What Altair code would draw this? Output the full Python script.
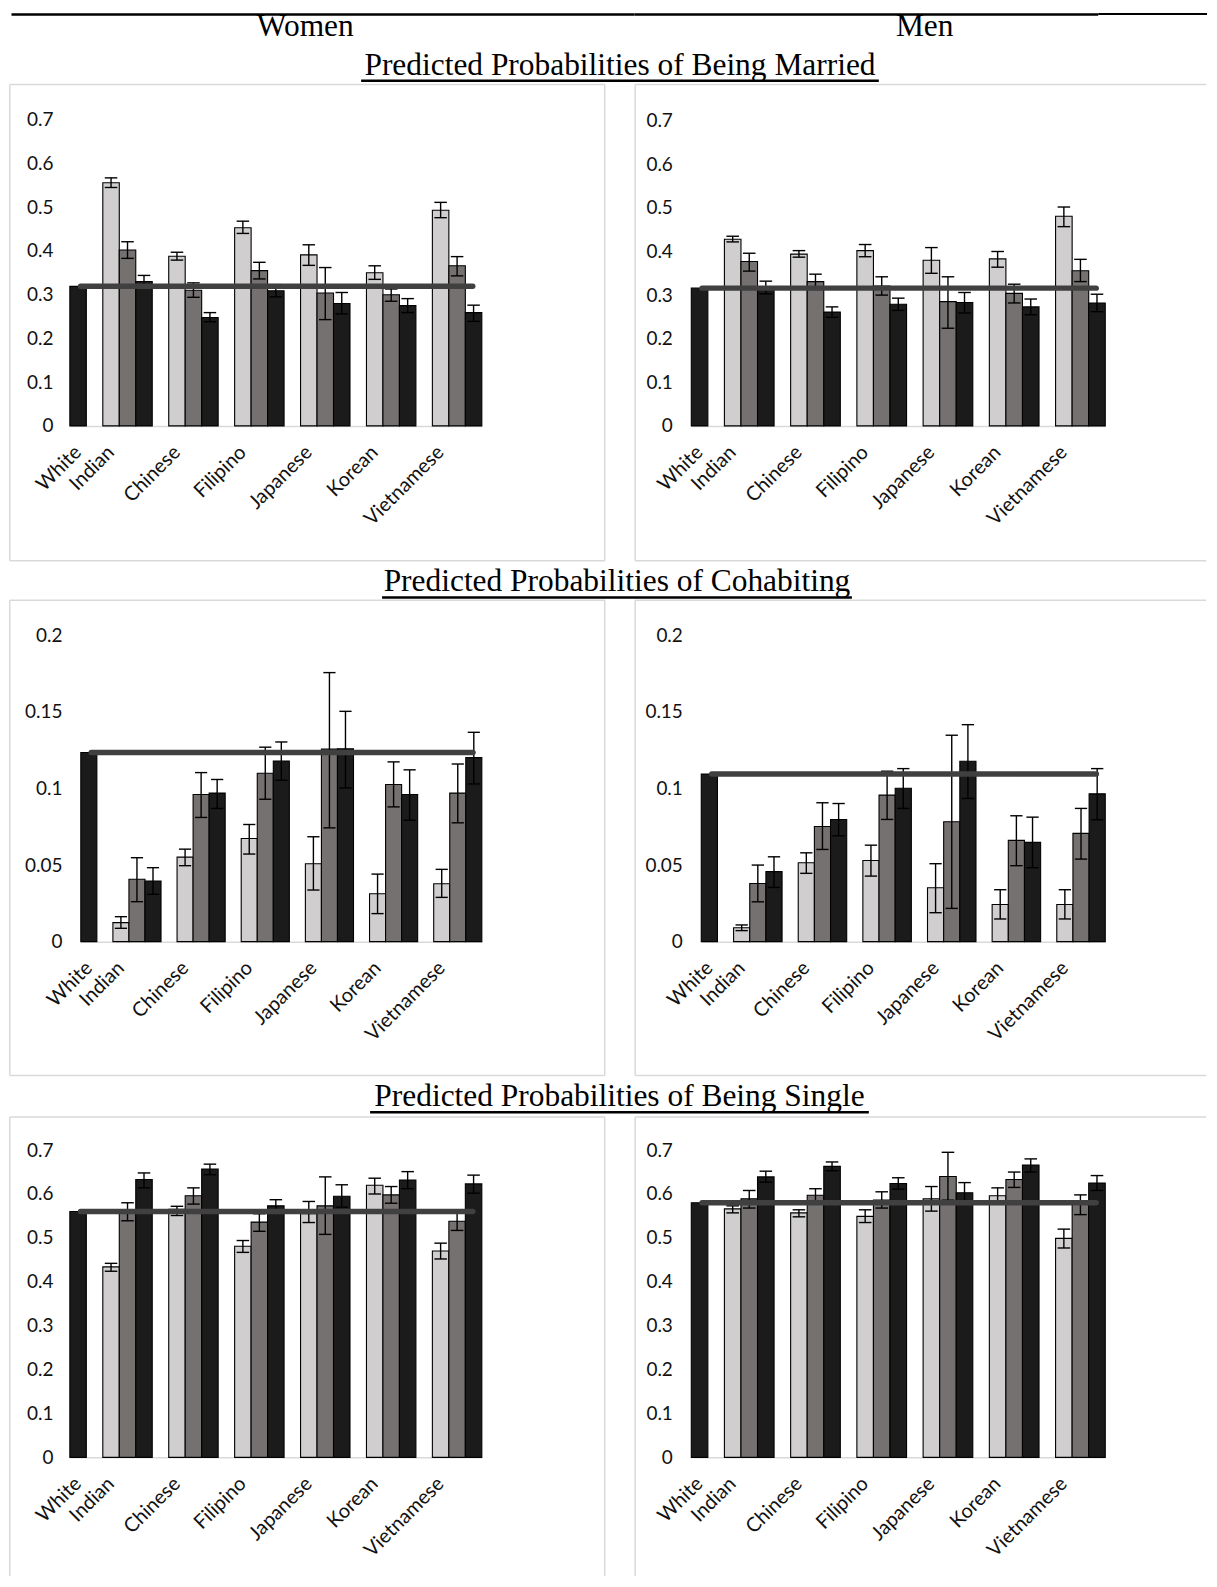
import json
import altair as alt
import pandas as pd

# ---------------- data ----------------
categories = ["White", "Indian", "Chinese", "Filipino", "Japanese", "Korean", "Vietnamese"]
series_names = ["Series 1", "Series 2", "Series 3"]
series_colors = ["#d0cece", "#767171", "#1b1b1b"]
column_labels = ["Women", "Men"]
panel_titles = [
    "Predicted Probabilities of Being Married",
    "Predicted Probabilities of Cohabiting",
    "Predicted Probabilities of Being Single",
]
married_ticks = [0, 0.1, 0.2, 0.3, 0.4, 0.5, 0.6, 0.7]
cohab_ticks = [0, 0.05, 0.1, 0.15, 0.2]
single_ticks = [0, 0.1, 0.2, 0.3, 0.4, 0.5, 0.6, 0.7]

# Women - married
women_married_white = 0.319
women_married_s1 = [0.556, 0.388, 0.453, 0.391, 0.350, 0.493]
women_married_s1_low = [0.545, 0.379, 0.440, 0.367, 0.335, 0.476]
women_married_s1_high = [0.567, 0.397, 0.468, 0.414, 0.366, 0.511]
women_married_s2 = [0.402, 0.310, 0.355, 0.304, 0.300, 0.366]
women_married_s2_low = [0.383, 0.294, 0.336, 0.243, 0.285, 0.343]
women_married_s2_high = [0.421, 0.327, 0.374, 0.362, 0.313, 0.387]
women_married_s3 = [0.330, 0.248, 0.309, 0.280, 0.275, 0.259]
women_married_s3_low = [0.316, 0.238, 0.295, 0.256, 0.259, 0.239]
women_married_s3_high = [0.344, 0.259, 0.323, 0.305, 0.291, 0.276]

# Men - married
men_married_white = 0.316
men_married_s1 = [0.428, 0.394, 0.402, 0.380, 0.383, 0.481]
men_married_s1_low = [0.422, 0.387, 0.388, 0.350, 0.364, 0.457]
men_married_s1_high = [0.435, 0.402, 0.416, 0.409, 0.400, 0.502]
men_married_s2 = [0.377, 0.331, 0.321, 0.285, 0.304, 0.356]
men_married_s2_low = [0.355, 0.313, 0.300, 0.224, 0.282, 0.331]
men_married_s2_high = [0.396, 0.348, 0.342, 0.342, 0.325, 0.382]
men_married_s3 = [0.315, 0.261, 0.279, 0.283, 0.273, 0.282]
men_married_s3_low = [0.303, 0.249, 0.265, 0.259, 0.255, 0.262]
men_married_s3_high = [0.332, 0.273, 0.293, 0.306, 0.291, 0.302]

# Women - cohabiting
women_cohab_white = 0.1235
women_cohab_s1 = [0.0124, 0.0552, 0.0674, 0.0509, 0.0313, 0.0378]
women_cohab_s1_low = [0.0087, 0.0496, 0.0572, 0.0337, 0.0183, 0.0289]
women_cohab_s1_high = [0.0163, 0.0604, 0.0765, 0.0685, 0.0441, 0.0472]
women_cohab_s2 = [0.0407, 0.0961, 0.1100, 0.1257, 0.1026, 0.0970]
women_cohab_s2_low = [0.0261, 0.0811, 0.0930, 0.0743, 0.0880, 0.0776]
women_cohab_s2_high = [0.0548, 0.1104, 0.1270, 0.1757, 0.1174, 0.1160]
women_cohab_s3 = [0.0396, 0.0970, 0.1180, 0.1259, 0.0961, 0.1202]
women_cohab_s3_low = [0.0309, 0.0870, 0.1054, 0.1004, 0.0793, 0.1030]
women_cohab_s3_high = [0.0483, 0.1059, 0.1304, 0.1504, 0.1122, 0.1367]

# Men - cohabiting
men_cohab_white = 0.1095
men_cohab_s1 = [0.0091, 0.0515, 0.0530, 0.0352, 0.0243, 0.0243]
men_cohab_s1_low = [0.0072, 0.0446, 0.0428, 0.0189, 0.0148, 0.0148]
men_cohab_s1_high = [0.0109, 0.0580, 0.0630, 0.0509, 0.0339, 0.0339]
men_cohab_s2 = [0.0380, 0.0752, 0.0957, 0.0783, 0.0661, 0.0707]
men_cohab_s2_low = [0.0260, 0.0602, 0.0798, 0.0217, 0.0496, 0.0539]
men_cohab_s2_high = [0.0500, 0.0907, 0.1113, 0.1348, 0.0822, 0.0870]
men_cohab_s3 = [0.0457, 0.0798, 0.1002, 0.1178, 0.0648, 0.0965]
men_cohab_s3_low = [0.0354, 0.0691, 0.0870, 0.0935, 0.0483, 0.0796]
men_cohab_s3_high = [0.0554, 0.0902, 0.1130, 0.1417, 0.0813, 0.1130]

# Women - single
women_single_white = 0.560
women_single_s1 = [0.434, 0.565, 0.481, 0.555, 0.620, 0.470]
women_single_s1_low = [0.424, 0.551, 0.467, 0.535, 0.600, 0.452]
women_single_s1_high = [0.442, 0.572, 0.494, 0.583, 0.636, 0.488]
women_single_s2 = [0.558, 0.596, 0.536, 0.573, 0.598, 0.538]
women_single_s2_low = [0.539, 0.577, 0.515, 0.508, 0.579, 0.517]
women_single_s2_high = [0.580, 0.614, 0.555, 0.639, 0.617, 0.558]
women_single_s3 = [0.633, 0.657, 0.573, 0.595, 0.632, 0.623]
women_single_s3_low = [0.614, 0.644, 0.560, 0.570, 0.612, 0.602]
women_single_s3_high = [0.648, 0.668, 0.587, 0.621, 0.651, 0.643]

# Men - single
men_single_white = 0.580
men_single_s1 = [0.566, 0.557, 0.549, 0.589, 0.596, 0.499]
men_single_s1_low = [0.557, 0.548, 0.535, 0.561, 0.579, 0.477]
men_single_s1_high = [0.573, 0.564, 0.564, 0.617, 0.614, 0.520]
men_single_s2 = [0.589, 0.597, 0.586, 0.640, 0.633, 0.576]
men_single_s2_low = [0.568, 0.580, 0.568, 0.586, 0.615, 0.553]
men_single_s2_high = [0.608, 0.612, 0.605, 0.695, 0.650, 0.598]
men_single_s3 = [0.639, 0.663, 0.624, 0.603, 0.666, 0.625]
men_single_s3_low = [0.627, 0.653, 0.611, 0.580, 0.650, 0.608]
men_single_s3_high = [0.652, 0.673, 0.637, 0.626, 0.680, 0.642]

# ---------------- layout helpers ----------------
SLOTS = 25
LABEL_FONT = "Lato"
SERIF = "Liberation Serif"
TXT = "#111111"
BORDER = "#d9d9d9"
LW, RW, GAP = 598, 574, 29
NOSTROKE = alt.ViewBackground(stroke="transparent")


def slot_of(ci, s):
    return 0 if ci == 0 else 4 * ci - 2 + s


def panel(white, ests, lows, highs, ticks, W, H, xr, yr, ylab_right, sides):
    bar_rows = [dict(cat="White", series=series_names[2], x0=slot_of(0, 0),
                     x1=slot_of(0, 0) + 1, v=white, zero=0)]
    err_rows = []
    for ci, cat in enumerate(categories[1:], start=1):
        for s in range(3):
            st = slot_of(ci, s)
            bar_rows.append(dict(cat=cat, series=series_names[s], x0=st, x1=st + 1,
                                 v=ests[s][ci - 1], zero=0))
            err_rows.append(dict(cat=cat, series=series_names[s], xc=st + 0.5,
                                 cl=st + 0.12, cr=st + 0.88,
                                 lo=lows[s][ci - 1], hi=highs[s][ci - 1]))
    bar_df = pd.DataFrame(bar_rows)
    err_df = pd.DataFrame(err_rows)
    ref_df = pd.DataFrame([dict(lx0=0.65, lx1=SLOTS - 0.55, v=white)])

    xs = alt.Scale(domain=[0, SLOTS], range=list(xr), nice=False, zero=False)
    ys = alt.Scale(domain=[0, ticks[-1]], range=list(yr), nice=False)

    label_vals = [slot_of(ci, 0) + 0.05 for ci in range(len(categories))]
    label_expr = json.dumps(categories) + "[floor(datum.value / 4 + 0.5)]"

    xaxis = alt.Axis(values=label_vals, labelExpr=label_expr, labelAngle=-45,
                     labelAlign="right", labelBaseline="top", labelPadding=16,
                     labelFont=LABEL_FONT, labelFontSize=20, labelColor=TXT,
                     ticks=False, tickSize=0, grid=False, title=None,
                     domain=True, domainColor=BORDER, domainWidth=1.5,
                     offset=-(H - yr[0]), labelOverlap=False, labelFlush=False,
                     labelBound=False)
    yaxis = alt.Axis(values=ticks, format="~g", domain=False, ticks=False,
                     tickSize=0, grid=False, title=None, offset=-ylab_right,
                     labelPadding=0, labelFont=LABEL_FONT, labelFontSize=19,
                     labelColor=TXT, labelFlush=False, labelOverlap=False,
                     labelBaseline="middle")

    bars = alt.Chart(bar_df).mark_rect(stroke="black", strokeWidth=1.1).encode(
        x=alt.X("x0:Q", scale=xs, axis=xaxis),
        x2="x1",
        y=alt.Y("v:Q", scale=ys, axis=yaxis),
        y2="zero",
        color=alt.Color("series:N", scale=alt.Scale(domain=series_names, range=series_colors),
                        legend=None),
    )
    err = alt.Chart(err_df).mark_rule(color="black", strokeWidth=1.4).encode(
        x=alt.X("xc:Q", scale=xs, axis=xaxis),
        y=alt.Y("lo:Q", scale=ys, axis=yaxis),
        y2="hi",
    )
    cap_hi = alt.Chart(err_df).mark_rule(color="black", strokeWidth=1.4).encode(
        x=alt.X("cl:Q", scale=xs, axis=xaxis),
        x2="cr",
        y=alt.Y("hi:Q", scale=ys, axis=yaxis),
    )
    cap_lo = alt.Chart(err_df).mark_rule(color="black", strokeWidth=1.4).encode(
        x=alt.X("cl:Q", scale=xs, axis=xaxis),
        x2="cr",
        y=alt.Y("lo:Q", scale=ys, axis=yaxis),
    )
    ref = alt.Chart(ref_df).mark_rule(color="#404040", strokeWidth=5.5, strokeCap="round").encode(
        x=alt.X("lx0:Q", scale=xs, axis=xaxis),
        x2="lx1",
        y=alt.Y("v:Q", scale=ys, axis=yaxis),
    )

    # chart-area border (Excel-style light frame); sides cut off by the page are left out
    frame = []
    bmark = dict(color=BORDER, strokeWidth=1.5)
    edge = 0.75
    if "top" in sides:
        frame.append(alt.Chart(ref_df).mark_rule(**bmark).encode(
            x=alt.value(edge), x2=alt.value(W - edge), y=alt.value(edge)))
    if "bottom" in sides:
        frame.append(alt.Chart(ref_df).mark_rule(**bmark).encode(
            x=alt.value(edge), x2=alt.value(W - edge), y=alt.value(H - edge)))
    if "left" in sides:
        frame.append(alt.Chart(ref_df).mark_rule(**bmark).encode(
            x=alt.value(edge), y=alt.value(edge), y2=alt.value(H - edge)))
    if "right" in sides:
        frame.append(alt.Chart(ref_df).mark_rule(**bmark).encode(
            x=alt.value(W - edge), y=alt.value(edge), y2=alt.value(H - edge)))

    return alt.layer(bars, err, cap_hi, cap_lo, ref, *frame).properties(
        width=W, height=H, view=NOSTROKE)


def text_layer(text, cx, base):
    df = pd.DataFrame({"t": [text]})
    return alt.Chart(df).mark_text(font=SERIF, fontSize=31.5, color="black",
                                   align="center", baseline="alphabetic").encode(
        x=alt.value(cx), y=alt.value(base), text="t:N")


def rule_layer(text, x0, x1, y, sw):
    df = pd.DataFrame({"t": [text]})
    return alt.Chart(df).mark_rule(color="black", strokeWidth=sw).encode(
        x=alt.value(x0), x2=alt.value(x1), y=alt.value(y))


def blank(W, H):
    df = pd.DataFrame({"t": [""]})
    return alt.Chart(df).mark_text(opacity=0).encode(
        x=alt.value(1), y=alt.value(1), text="t:N").properties(
        width=W, height=H, view=NOSTROKE)


# header cells (titles spanning both columns are drawn from the left cell)
header_left = alt.layer(
    rule_layer("top", 2.5, LW + GAP, 2.5, 2.5),
    text_layer(column_labels[0], 297, 24),
    text_layer(panel_titles[0], 612.5, 63),
    rule_layer(panel_titles[0], 353, 872, 69, 2.5),
).properties(width=LW, height=72, view=NOSTROKE)
header_right = alt.layer(
    rule_layer("top", 0, 1092 - LW - GAP, 2.5, 2.5),
    rule_layer("box", 1092 - LW - GAP, RW, 2, 2),
    text_layer(column_labels[1], 918 - LW - GAP, 24),
).properties(width=RW, height=72, view=NOSTROKE)

title2_left = alt.layer(
    text_layer(panel_titles[1], 609.5, 29),
    rule_layer(panel_titles[1], 374, 845, 36, 2.5),
).properties(width=LW, height=38, view=NOSTROKE)
title3_left = alt.layer(
    text_layer(panel_titles[2], 612, 30),
    rule_layer(panel_titles[2], 362, 862, 36, 2.5),
).properties(width=LW, height=40, view=NOSTROKE)

ALL = ("top", "bottom", "left", "right")
p_wm = panel(women_married_white,
             [women_married_s1, women_married_s2, women_married_s3],
             [women_married_s1_low, women_married_s2_low, women_married_s3_low],
             [women_married_s1_high, women_married_s2_high, women_married_s3_high],
             married_ticks, LW, 479, (61, 474), (343, 36), 44, ALL)
p_mm = panel(men_married_white,
             [men_married_s1, men_married_s2, men_married_s3],
             [men_married_s1_low, men_married_s2_low, men_married_s3_low],
             [men_married_s1_high, men_married_s2_high, men_married_s3_high],
             married_ticks, RW, 479, (57, 472), (343, 37), 38, ("top", "bottom", "left"))
p_wc = panel(women_cohab_white,
             [women_cohab_s1, women_cohab_s2, women_cohab_s3],
             [women_cohab_s1_low, women_cohab_s2_low, women_cohab_s3_low],
             [women_cohab_s1_high, women_cohab_s2_high, women_cohab_s3_high],
             cohab_ticks, LW, 478, (72, 474), (343, 36), 53, ALL)
p_mc = panel(men_cohab_white,
             [men_cohab_s1, men_cohab_s2, men_cohab_s3],
             [men_cohab_s1_low, men_cohab_s2_low, men_cohab_s3_low],
             [men_cohab_s1_high, men_cohab_s2_high, men_cohab_s3_high],
             cohab_ticks, RW, 478, (67, 472), (343, 36), 48, ("top", "bottom", "left"))
p_ws = panel(women_single_white,
             [women_single_s1, women_single_s2, women_single_s3],
             [women_single_s1_low, women_single_s2_low, women_single_s3_low],
             [women_single_s1_high, women_single_s2_high, women_single_s3_high],
             single_ticks, LW, 462, (61, 474), (342, 34), 44, ("top", "left", "right"))
p_ms = panel(men_single_white,
             [men_single_s1, men_single_s2, men_single_s3],
             [men_single_s1_low, men_single_s2_low, men_single_s3_low],
             [men_single_s1_high, men_single_s2_high, men_single_s3_high],
             single_ticks, RW, 462, (57, 472), (342, 34), 38, ("top", "left"))

chart = alt.concat(
    header_left, header_right,
    p_wm, p_mm,
    title2_left, blank(RW, 38),
    p_wc, p_mc,
    title3_left, blank(RW, 40),
    p_ws, p_ms,
    columns=2, spacing={"row": 0, "column": GAP}, bounds="flush",
).properties(padding=0, background="white")

chart.save("out.html", embed_options={"renderer": "svg", "actions": False})
